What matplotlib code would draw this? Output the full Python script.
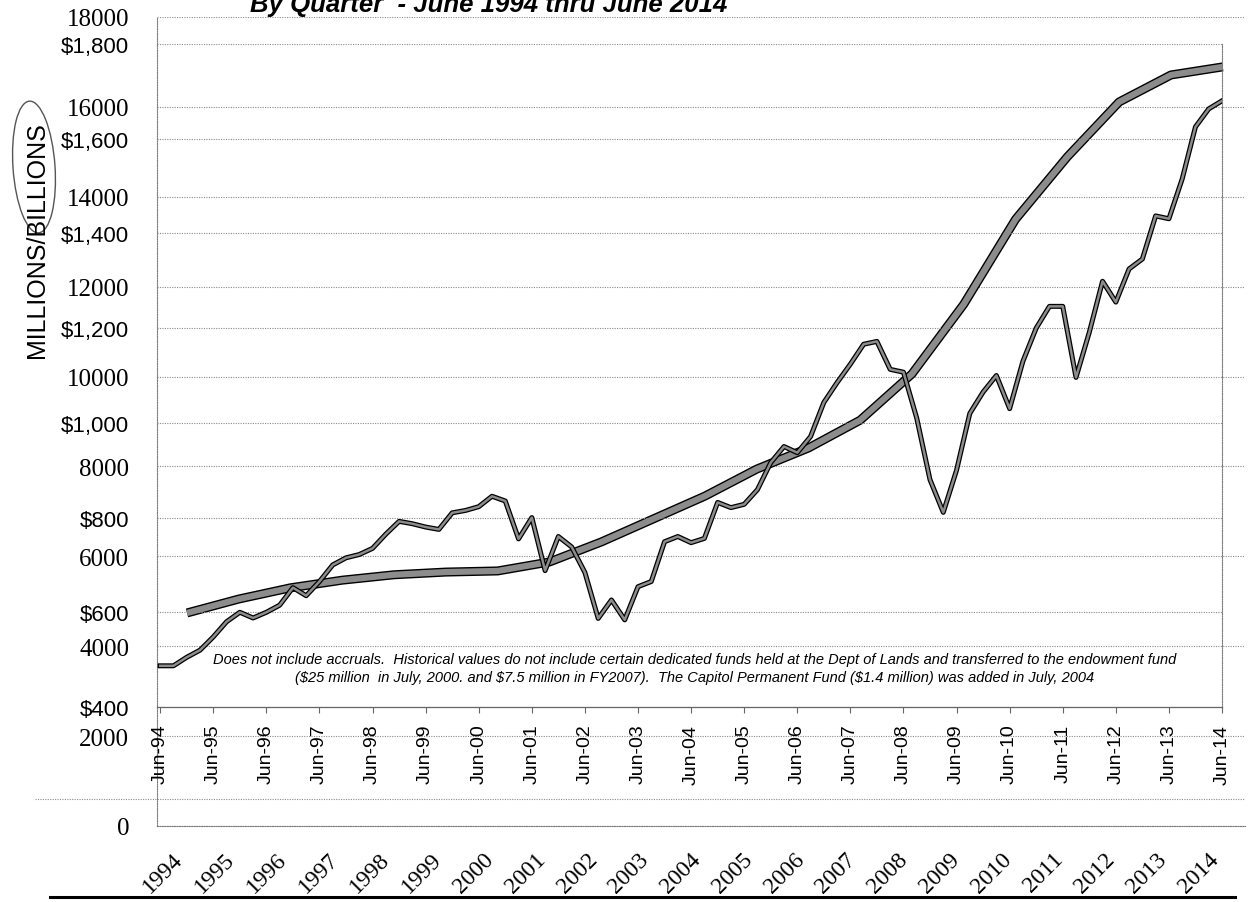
import numpy as np
import matplotlib.pyplot as plt
from matplotlib.patches import Ellipse

W, H = 1254, 903

# chart B: quarterly fund value ($ millions), Jun-94 .. Jun-14
quarter_ticks = [f"Jun-{y % 100:02d}" for y in range(1994, 2015)]
fund_value = [487, 487, 505, 520, 548, 580, 600, 588, 600, 615,
              652, 635, 665, 700, 715, 722, 735, 765, 792, 787,
              780, 775, 810, 815, 823, 845, 835, 755, 800, 688,
              760, 738, 684, 587, 626, 584, 654, 665, 749, 760,
              747, 756, 832, 821, 828, 859, 916, 950, 937, 971,
              1043, 1085, 1124, 1166, 1172, 1113, 1107, 1010, 880, 811,
              900, 1020, 1065, 1100, 1030, 1130, 1200, 1246, 1246, 1096,
              1191, 1299, 1255, 1325, 1346, 1437, 1431, 1515, 1625, 1663,
              1680]
b_yticks = [400, 600, 800, 1000, 1200, 1400, 1600, 1800]

# chart A: yearly smooth line (millions)
years = [str(y) for y in range(1994, 2015)]
trend_value = [4740, 5050, 5300, 5470, 5590, 5650, 5675, 5875, 6320, 6830,
               7340, 7940, 8410, 9030, 10060, 11610, 13500, 14890, 16110,
               16710, 16890]
a_yticks = list(range(0, 18001, 2000))

title = "By Quarter  - June 1994 thru June 2014"
note1 = ("Does not include accruals.  Historical values do not include certain dedicated "
         "funds held at the Dept of Lands and transferred to the endowment fund")
note2 = ("($25 million  in July, 2000. and $7.5 million in FY2007).  The Capitol Permanent "
         "Fund ($1.4 million) was added in July, 2004")

grid_kw = dict(color="#8a8a8a", linestyle=(0, (1, 1.2)), linewidth=0.8)


def px_rect(left, top, right, bottom):
    return [left / W, (H - bottom) / H, (right - left) / W, (bottom - top) / H]


fig = plt.figure(figsize=(W / 100, H / 100), dpi=100)

# --- chart A (yearly, millions) ---
axA = fig.add_axes(px_rect(157, 18, 1245, 827))
axA.patch.set_alpha(0)
axA.plot(range(len(trend_value)), trend_value, color="black", lw=6.5,
         solid_capstyle="butt", zorder=3)
axA.plot(range(len(trend_value)), trend_value, color="#8c8c8c", lw=4.5,
         solid_capstyle="butt", zorder=4)
axA.set_xlim(-0.58, 20.43)
axA.set_ylim(0, 18000)
axA.set_yticks(a_yticks)
axA.set_yticklabels([str(v) for v in a_yticks], family="Liberation Serif", fontsize=18)
axA.set_xticks(range(len(years)))
axA.set_xticklabels(years, rotation=45, ha="right", family="Liberation Serif", fontsize=17)
axA.tick_params(axis="y", length=0, pad=20)
axA.tick_params(axis="x", length=0, pad=16)
axA.yaxis.grid(True, **grid_kw)
for s in ["top", "right"]:
    axA.spines[s].set_visible(False)
for s in ["left", "bottom"]:
    axA.spines[s].set_linestyle((0, (1, 1.2)))
    axA.spines[s].set_color("#7a7a7a")
    axA.spines[s].set_linewidth(0.8)

# --- chart B (quarterly, $ millions) ---
axB = fig.add_axes(px_rect(157, 45, 1222, 708))
axB.patch.set_alpha(0)
xq = np.arange(len(fund_value)) / 4.0
axB.plot(xq, fund_value, color="black", lw=3.6, zorder=5)
axB.plot(xq, fund_value, color="#8c8c8c", lw=1.8, zorder=6)
axB.set_xlim(-0.06, 20.0)
axB.set_ylim(400, 1800)
axB.set_yticks(b_yticks)
axB.set_yticklabels([f"${v:,}" for v in b_yticks], family="Liberation Sans", fontsize=16)
axB.set_xticks(range(len(quarter_ticks)))
axB.set_xticklabels(quarter_ticks, rotation=90, family="Liberation Sans", fontsize=14)
axB.tick_params(axis="y", length=0, pad=20)
axB.tick_params(axis="x", length=4, pad=8, color="#666666")
axB.yaxis.grid(True, **grid_kw)
axB.spines["top"].set_visible(False)
axB.spines["left"].set_visible(False)
axB.spines["bottom"].set_color("#666666")
axB.spines["bottom"].set_linewidth(0.9)
axB.spines["right"].set_linestyle((0, (1, 1.2)))
axB.spines["right"].set_color("#7a7a7a")
axB.spines["right"].set_linewidth(0.8)

# --- annotations overlay in pixel coordinates ---
ov = fig.add_axes([0, 0, 1, 1])
ov.set_xlim(0, W)
ov.set_ylim(H, 0)
ov.axis("off")
ov.patch.set_alpha(0)
ov.text(250, 12, title, ha="left", va="baseline", fontsize=18.5,
        fontweight="bold", fontstyle="italic", family="Liberation Sans")
ov.text(37, 240, "MILLIONS/BILLIONS", rotation=90, ha="center", va="center",
        fontsize=18, family="Liberation Sans")
ov.add_patch(Ellipse((34, 168), 42, 132, angle=-4, fill=False, ec="#555555", lw=1))
ov.text(695, 660, note1, ha="center", va="center", fontsize=10.5,
        fontstyle="italic", family="Liberation Sans")
ov.text(695, 678, note2, ha="center", va="center", fontsize=10.5,
        fontstyle="italic", family="Liberation Sans")
ov.plot([35, 1245], [800, 800], **grid_kw)
ov.plot([50, 1235], [898, 898], color="black", lw=2.2)

fig.savefig("out.png", dpi=100)
